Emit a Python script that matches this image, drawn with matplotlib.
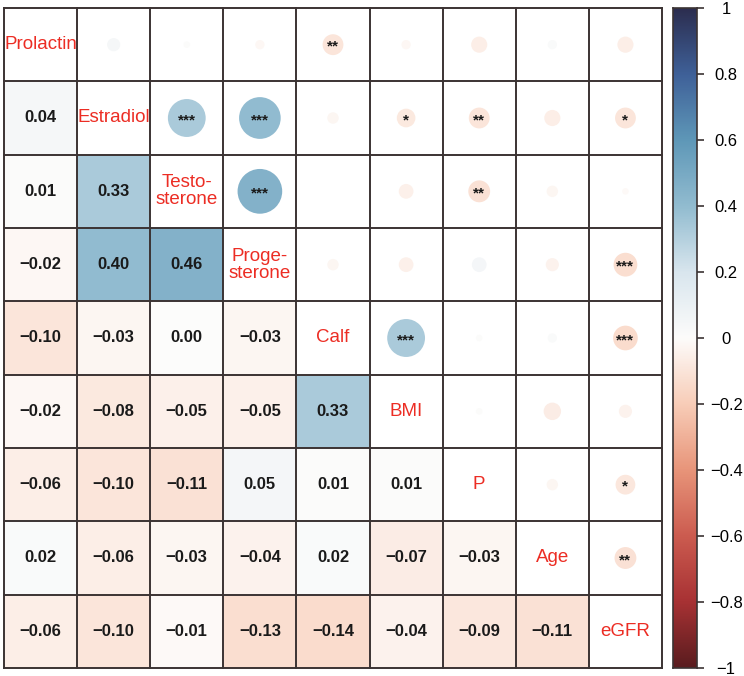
import numpy as np
import matplotlib
matplotlib.use("Agg")
import matplotlib.pyplot as plt
from matplotlib.colors import LinearSegmentedColormap, Normalize
from matplotlib.patches import Rectangle, Circle

plt.rcParams['font.family'] = ['Liberation Sans', 'DejaVu Sans']

labels = ["Prolactin", "Estradiol", "Testo-\nsterone", "Proge-\nsterone",
          "Calf", "BMI", "P", "Age", "eGFR"]

# lower triangle correlations, row by row
lower = [
    [],
    [0.04],
    [0.01, 0.33],
    [-0.02, 0.40, 0.46],
    [-0.10, -0.03, 0.00, -0.03],
    [-0.02, -0.08, -0.05, -0.05, 0.33],
    [-0.06, -0.10, -0.11, 0.05, 0.01, 0.01],
    [0.02, -0.06, -0.03, -0.04, 0.02, -0.07, -0.03],
    [-0.06, -0.10, -0.01, -0.13, -0.14, -0.04, -0.09, -0.11],
]

# significance marks in the upper triangle: (row, col) -> stars
stars = {(0, 4): "**",
         (1, 2): "***", (1, 3): "***", (1, 5): "*", (1, 6): "**", (1, 8): "*",
         (2, 3): "***", (2, 6): "**",
         (3, 8): "***",
         (4, 5): "***", (4, 8): "***",
         (6, 8): "*",
         (7, 8): "**"}

cbar_ticks = [-1, -0.8, -0.6, -0.4, -0.2, 0, 0.2, 0.4, 0.6, 0.8, 1]

n = len(labels)
R = np.eye(n)
for i, row in enumerate(lower):
    for j, v in enumerate(row):
        R[i, j] = v
        R[j, i] = v

cmap = LinearSegmentedColormap.from_list("rdbu_soft", [
    (0.0, "#5a1c1f"), (0.1, "#a83234"), (0.2, "#cc5c50"), (0.3, "#e8957a"),
    (0.4, "#f8cdb8"), (0.5, "#fdfcfb"), (0.6, "#d9e6ee"), (0.7, "#92bcd0"),
    (0.8, "#5f98b8"), (0.9, "#3f6199"), (1.0, "#2c2e50")])
norm = Normalize(-1, 1)

def fmt(v):
    return ("%g" % v).replace("-", "\u2212")

fig = plt.figure(figsize=(7.44, 6.76), dpi=100)
ax = fig.add_axes([4/744, 8/676, 658/744, 660/676])
ax.set_xlim(0, n)
ax.set_ylim(n, 0)
ax.axis("off")

red = "#ec2d24"
for i in range(n):
    for j in range(n):
        if i > j:
            ax.add_patch(Rectangle((j, i), 1, 1, facecolor=cmap(norm(R[i, j])),
                                   edgecolor="none"))
            ax.text(j + 0.5, i + 0.5, f"{R[i, j]:.2f}".replace("-", "\u2212"),
                    ha="center", va="center", fontsize=12, fontweight="bold",
                    color="#1a1a1a")
        elif i < j:
            r = 0.45 * np.sqrt(abs(R[i, j]))
            ax.add_patch(Circle((j + 0.5, i + 0.5), r,
                                facecolor=cmap(norm(R[i, j])), edgecolor="none"))
            if (i, j) in stars:
                ax.text(j + 0.5, i + 0.53, stars[(i, j)], ha="center",
                        va="center", fontsize=11, fontweight="bold",
                        color="#1a1a1a")
        else:
            ax.text(j + 0.5, i + 0.5, labels[i], ha="center", va="center",
                    fontsize=13.5, color=red, linespacing=1.0)

for k in range(n + 1):
    ax.plot([0, n], [k, k], color="#3b3333", lw=1.4, clip_on=False)
    ax.plot([k, k], [0, n], color="#3b3333", lw=1.4, clip_on=False)

cax = fig.add_axes([673/744, 8/676, 24/744, 660/676])
grad = np.linspace(-1, 1, 256).reshape(-1, 1)
cax.imshow(grad, aspect="auto", cmap=cmap, norm=norm, origin="lower",
           extent=(0, 1, -1, 1))
cax.set_xticks([])
cax.yaxis.tick_right()
cax.set_yticks(cbar_ticks)
cax.set_yticklabels([fmt(t) for t in cbar_ticks], fontsize=12, ha="center")
cax.tick_params(axis="y", length=5, width=1.2, color="#3b3333", pad=16)
for s in cax.spines.values():
    s.set_color("#3b3333")
    s.set_linewidth(1.2)

fig.savefig("out.png", dpi=100)
